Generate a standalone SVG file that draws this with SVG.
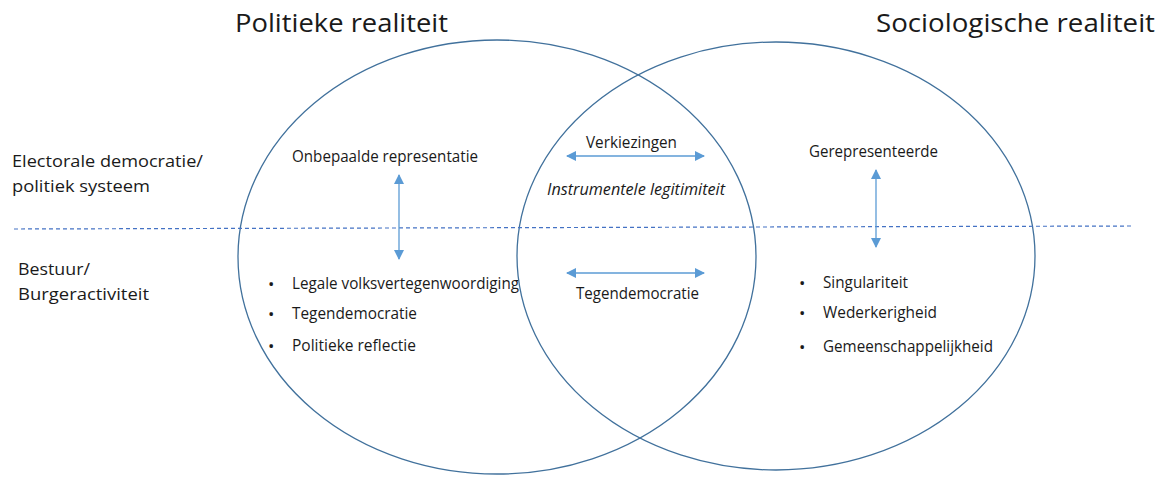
<svg xmlns="http://www.w3.org/2000/svg" width="1163" height="477" viewBox="0 0 1163 477">
<style>
text{font-family:"Open Sans","Liberation Sans",sans-serif;fill:#1a1a1a}
.t{font-size:26px}
.s{font-size:15.5px}
.b{font-size:17px}
.i{font-style:italic}
.ell{fill:none;stroke:#41719c;stroke-width:1.3}
.arr{stroke:#5b9bd5;stroke-width:1.3;fill:none;marker-start:url(#ah);marker-end:url(#ah)}
.dash{stroke:#4472c4;stroke-width:1.2;stroke-dasharray:4 3;fill:none}
</style>
<defs>
<marker id="ah" viewBox="0 0 10 10" refX="9" refY="5" markerWidth="10" markerHeight="10" markerUnits="userSpaceOnUse" orient="auto-start-reverse">
<path d="M0,0 L10,5 L0,10 z" fill="#5b9bd5"/>
</marker>
</defs>
<g id="politiek">
<ellipse class="ell" cx="497" cy="257" rx="259" ry="217"/>
<text class="t" x="235" y="32" textLength="213" lengthAdjust="spacingAndGlyphs">Politieke realiteit</text>
<text class="s" x="292" y="162" textLength="186" lengthAdjust="spacingAndGlyphs">Onbepaalde representatie</text>
<text class="b" x="268" y="290">•</text>
<text class="s" x="292" y="289" textLength="227" lengthAdjust="spacingAndGlyphs">Legale volksvertegenwoordiging</text>
<text class="b" x="268" y="320">•</text>
<text class="s" x="292" y="319" textLength="125" lengthAdjust="spacingAndGlyphs">Tegendemocratie</text>
<text class="b" x="268" y="352">•</text>
<text class="s" x="292" y="351" textLength="124" lengthAdjust="spacingAndGlyphs">Politieke reflectie</text>
</g>
<g id="sociologisch">
<ellipse class="ell" cx="776" cy="256" rx="259" ry="214"/>
<text class="t" x="876" y="32" textLength="279" lengthAdjust="spacingAndGlyphs">Sociologische realiteit</text>
<text class="s" x="809" y="157" textLength="129" lengthAdjust="spacingAndGlyphs">Gerepresenteerde</text>
<text class="b" x="799" y="289">•</text>
<text class="s" x="823" y="288" textLength="85" lengthAdjust="spacingAndGlyphs">Singulariteit</text>
<text class="b" x="799" y="319">•</text>
<text class="s" x="823" y="318" textLength="114" lengthAdjust="spacingAndGlyphs">Wederkerigheid</text>
<text class="b" x="799" y="353">•</text>
<text class="s" x="823" y="352" textLength="170" lengthAdjust="spacingAndGlyphs">Gemeenschappelijkheid</text>
</g>
<g id="overlap">
<text class="s" x="586" y="148" textLength="91" lengthAdjust="spacingAndGlyphs">Verkiezingen</text>
<text class="s i" x="547" y="195" textLength="178" lengthAdjust="spacingAndGlyphs">Instrumentele legitimiteit</text>
<text class="s" x="576" y="299" textLength="123" lengthAdjust="spacingAndGlyphs">Tegendemocratie</text>
</g>
<g id="rijen">
<text class="s" x="12" y="167" textLength="191" lengthAdjust="spacingAndGlyphs">Electorale democratie/</text>
<text class="s" x="12" y="192" textLength="138" lengthAdjust="spacingAndGlyphs">politiek systeem</text>
<text class="s" x="18" y="275" textLength="72" lengthAdjust="spacingAndGlyphs">Bestuur/</text>
<text class="s" x="18" y="300" textLength="131" lengthAdjust="spacingAndGlyphs">Burgeractiviteit</text>
</g>
<g id="connectors">
<line class="dash" x1="14" y1="229" x2="1134" y2="226"/>
<line class="arr" x1="399" y1="175" x2="399" y2="259"/>
<line class="arr" x1="567" y1="156" x2="704" y2="156"/>
<line class="arr" x1="567" y1="273" x2="704" y2="273"/>
<line class="arr" x1="876" y1="170" x2="876" y2="247"/>
</g>
</svg>
